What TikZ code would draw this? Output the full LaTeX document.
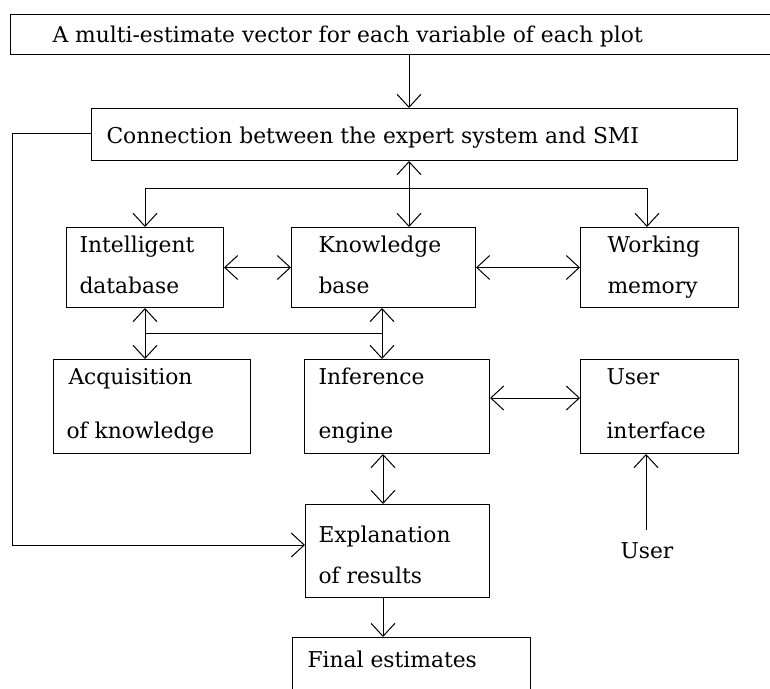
\documentclass[tikz,border=0pt]{standalone}
\usepackage{fontspec}
\setmainfont{DejaVu Serif}
\usetikzlibrary{arrows.meta}
\begin{document}
\begin{tikzpicture}[x=1pt,y=-1pt,line width=1pt,
  box/.style={draw,rectangle,anchor=north west,inner sep=0pt,line width=1pt},
  txt/.style={anchor=base west,inner sep=0pt,font=\fontsize{21.8}{26}\selectfont},
  >={Straight Barb[length=13pt,width=24pt]}]
\useasboundingbox (0,0) rectangle (770,688);
% boxes
\node[box,minimum width=765pt,minimum height=40pt] (top) at (10,14) {};
\node[box,minimum width=646pt,minimum height=52pt] (conn) at (91,108) {};
\node[box,minimum width=157pt,minimum height=80pt] (db) at (66,227) {};
\node[box,minimum width=184pt,minimum height=80pt] (kb) at (291,227) {};
\node[box,minimum width=158pt,minimum height=80pt] (wm) at (580,227) {};
\node[box,minimum width=197pt,minimum height=94pt] (acq) at (53,359) {};
\node[box,minimum width=185pt,minimum height=94pt] (inf) at (304,359) {};
\node[box,minimum width=158pt,minimum height=94pt] (ui) at (580,359) {};
\node[box,minimum width=184pt,minimum height=93pt] (expl) at (305,504) {};
\node[box,minimum width=238pt,minimum height=60pt] (fin) at (292,637) {};
% texts
\node[txt] (t1) at (52,42) {A multi-estimate vector for each variable of each plot};
\node[txt] (t2) at (106,143) {Connection between the expert system and SMI};
\node[txt] (t3) at (79,252) {Intelligent};
\node[txt] (t4) at (79,293) {database};
\node[txt] (t5) at (318,252) {Knowledge};
\node[txt] (t6) at (318,293) {base};
\node[txt] (t7) at (607,252) {Working};
\node[txt] (t8) at (607,293) {memory};
\node[txt] (t9) at (68,384) {Acquisition};
\node[txt] (t10) at (66,438) {of knowledge};
\node[txt] (t11) at (318,384) {Inference};
\node[txt] (t12) at (318,438) {engine};
\node[txt] (t13) at (606,384) {User};
\node[txt] (t14) at (606,438) {interface};
\node[txt] (t15) at (318,542) {Explanation};
\node[txt] (t16) at (318,583) {of results};
\node[txt] (t17) at (307,667) {Final estimates};
\node[txt] (user) at (620,558) {User};
% helper coordinates
\coordinate (cA) at (409,0);
\coordinate (cDB) at (145,0);
\coordinate (cKB) at (382,0);
\coordinate (cWM) at (647,0);
\coordinate (cE) at (383,0);
\coordinate (cL) at (12,0);
\coordinate (yH1) at (0,188);
\coordinate (yH2) at (0,333);
\coordinate (yIU) at (0,398);
\coordinate (yL) at (0,133);
\coordinate (yEx) at (0,545);
\coordinate (uS) at (646,530);
% connectors
\draw[->] (top.south -| cA) -- (conn.north -| cA);
\draw[<->] (conn.south -| cA) -- (kb.north -| cA);
\draw[->] (cA |- yH1) -| (db.north -| cDB);
\draw[->] (cA |- yH1) -| (wm.north -| cWM);
\draw[<->] (db.east) -- (kb.west);
\draw[<->] (kb.east) -- (wm.west);
\draw[<->] (db.south -| cDB) -- (acq.north -| cDB);
\draw[<->] (kb.south -| cKB) -- (inf.north -| cKB);
\draw (cDB |- yH2) -- (cKB |- yH2);
\draw[<->] (inf.east |- yIU) -- (ui.west |- yIU);
\draw[<->] (inf.south -| cE) -- (expl.north -| cE);
\draw[->] (expl.south -| cE) -- (fin.north -| cE);
\draw[->] (conn.west |- yL) -| (cL |- yEx) -- (expl.west |- yEx);
\draw[->] (uS) -- (ui.south -| uS);
\end{tikzpicture}
\end{document}
